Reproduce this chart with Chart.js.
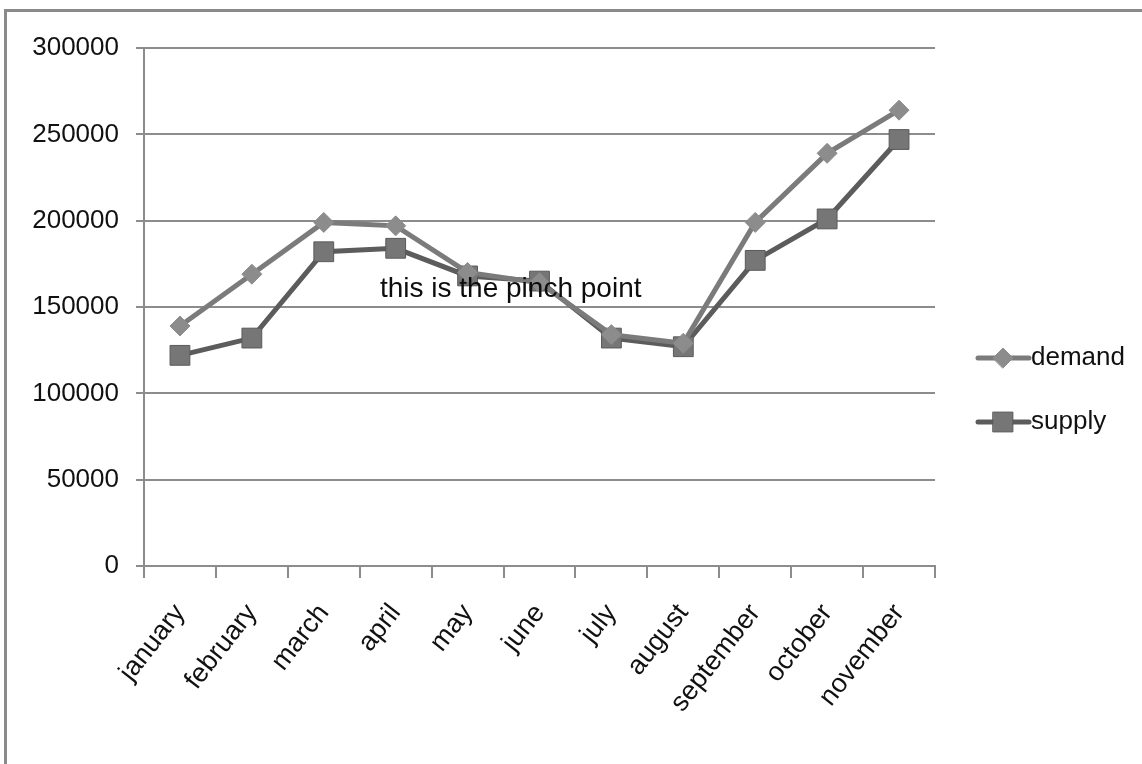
<!DOCTYPE html>
<html>
<head>
<meta charset="utf-8">
<script src="https://cdn.jsdelivr.net/npm/chart.js@4"></script>
<style>
    html, body { margin: 0; padding: 0; background: #fff; }
    #wrap { position: relative; width: 1142px; height: 764px; overflow: hidden; }
    #frame {
        position: absolute; left: 4px; top: 9px; right: -10px; bottom: -10px;
        border-left: 3px solid #8a8a8a; border-top: 3px solid #8a8a8a;
        pointer-events: none;
    }
</style>
</head>
<body>
<div id="wrap">
    <canvas id="chart" width="1142" height="764"></canvas>
    <div id="frame"></div>
</div>
<script>
// chart data
const months = ['january', 'february', 'march', 'april', 'may', 'june',
    'july', 'august', 'september', 'october', 'november'];
const demand = [139000, 169000, 199000, 197000, 170000, 164000, 134000, 129000, 199000, 239000, 264000];
const supply = [122000, 132000, 182000, 184000, 168000, 165000, 132000, 127000, 177000, 201000, 247000];
const yTicks = [0, 50000, 100000, 150000, 200000, 250000, 300000];
const note = 'this is the pinch point';

const FONT = '"Liberation Sans", Arial, sans-serif';

// Legend drawn as line + marker, like the spreadsheet original
const legendPlugin = {
    id: 'lineLegend',
    afterDraw(chart) {
        const ctx = chart.ctx;
        const rows = [358, 422];
        chart.data.datasets.forEach((ds, i) => {
            const y = rows[i];
            ctx.save();
            ctx.strokeStyle = ds.borderColor;
            ctx.lineWidth = ds.borderWidth;
            ctx.lineCap = 'round';
            ctx.beginPath();
            ctx.moveTo(978, y);
            ctx.lineTo(1029, y);
            ctx.stroke();
            ctx.fillStyle = ds.pointBackgroundColor;
            ctx.strokeStyle = ds.pointBorderColor;
            ctx.lineWidth = 1;
            Chart.helpers.drawPoint(ctx, {
                pointStyle: ds.pointStyle,
                radius: ds.pointRadius,
                borderWidth: 1
            }, 1003, y);
            ctx.fillStyle = '#111';
            ctx.font = '26px ' + FONT;
            ctx.textAlign = 'left';
            ctx.textBaseline = 'middle';
            ctx.fillText(ds.label, 1031, y);
            ctx.restore();
        });
    }
};

// free text label inside the plot
const notePlugin = {
    id: 'noteText',
    afterDatasetsDraw(chart) {
        const { ctx, scales } = chart;
        const x = scales.x.getPixelForValue(4.6);
        const y = scales.y.getPixelForValue(160000);
        ctx.save();
        ctx.fillStyle = '#0d0d0d';
        ctx.font = '28px ' + FONT;
        ctx.textAlign = 'center';
        ctx.textBaseline = 'middle';
        ctx.fillText(note, x, y);
        ctx.restore();
    }
};

const ctx = document.getElementById('chart').getContext('2d');
new Chart(ctx, {
    type: 'line',
    data: {
        labels: months,
        datasets: [{
            label: 'demand',
            data: demand,
            borderColor: '#7b7b7b',
            borderWidth: 5,
            pointStyle: 'rectRot',
            pointRadius: 10,
            pointHoverRadius: 10,
            pointBackgroundColor: '#8c8c8c',
            pointBorderColor: '#8c8c8c',
            pointBorderWidth: 1,
            tension: 0
        }, {
            label: 'supply',
            data: supply,
            borderColor: '#5c5c5c',
            borderWidth: 5,
            pointStyle: 'rect',
            pointRadius: 14,
            pointHoverRadius: 14,
            pointBackgroundColor: '#767676',
            pointBorderColor: '#5a5a5a',
            pointBorderWidth: 1,
            tension: 0
        }]
    },
    options: {
        responsive: false,
        animation: false,
        layout: { padding: { top: 48, right: 207, bottom: 0, left: 0 } },
        plugins: {
            legend: { display: false },
            tooltip: { enabled: false }
        },
        scales: {
            x: {
                offset: true,
                grid: {
                    offset: true,
                    drawOnChartArea: false,
                    drawTicks: true,
                    tickLength: 12,
                    color: '#8c8c8c',
                    lineWidth: 2
                },
                border: { color: '#8c8c8c', width: 2 },
                ticks: {
                    color: '#111',
                    font: { family: FONT, size: 27 },
                    minRotation: 52,
                    maxRotation: 52,
                    autoSkip: false,
                    padding: 20
                },
                afterFit(scale) { scale.height = 198; }
            },
            y: {
                min: 0,
                max: 300000,
                afterBuildTicks(scale) {
                    scale.ticks = yTicks.map(v => ({ value: v }));
                },
                grid: {
                    color: '#8c8c8c',
                    lineWidth: 2,
                    tickLength: 8
                },
                border: { color: '#8c8c8c', width: 2 },
                ticks: {
                    color: '#111',
                    font: { family: FONT, size: 26 },
                    padding: 17,
                    callback: v => String(v)
                },
                afterFit(scale) { scale.width = 144; }
            }
        }
    },
    plugins: [notePlugin, legendPlugin]
});
</script>
</body>
</html>
